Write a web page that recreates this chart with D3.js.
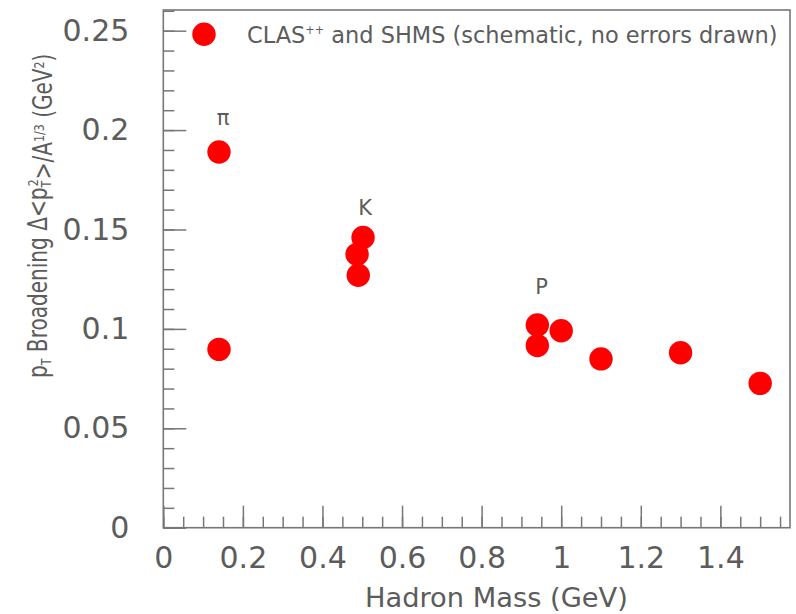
<!DOCTYPE html>
<html>
<head>
<meta charset="utf-8">
<script src="https://cdn.jsdelivr.net/npm/d3@7"></script>
<style>
  html, body { margin: 0; padding: 0; background: #fff; }
  svg { display: block; }
  text { font-family: "DejaVu Sans", sans-serif; fill: #5c5c5c; }
</style>
</head>
<body>
<svg id="chart" width="796" height="614"></svg>
<script>
// ---- data ----
const hadronMass = [0.14, 0.14, 0.487, 0.49, 0.502, 0.94, 0.94, 1.0, 1.1, 1.3, 1.5];
const broadening = [0.189, 0.0897, 0.1375, 0.127, 0.146, 0.102, 0.0916, 0.0991, 0.0849, 0.088, 0.0726];
const particleLabels = ["π", "K", "P"];
const labelMass = [0.15, 0.507, 0.9505];
const labelValue = [0.206, 0.161, 0.121];
const xTickValues = [0, 0.2, 0.4, 0.6, 0.8, 1, 1.2, 1.4];
const xTickLabels = ["0", "0.2", "0.4", "0.6", "0.8", "1", "1.2", "1.4"];
const yTickValues = [0, 0.05, 0.1, 0.15, 0.2, 0.25];
const yTickLabels = ["0", "0.05", "0.1", "0.15", "0.2", "0.25"];
const legendLabel = "CLAS";
const legendSup = "++";
const legendRest = " and SHMS (schematic, no errors drawn)";
const xTitle = "Hadron Mass (GeV)";

// ---- layout ----
const L = 163.3, R = 790, T = 10, B = 527.7;
const svg = d3.select("#chart");
const x = d3.scaleLinear().domain([0, 1.575]).range([L, R]);
const y = d3.scaleLinear().domain([0, 0.2604]).range([B, T]);
const axisColor = "#777";

// fit text to a target width by horizontal scaling (keeps glyph height)
function fitScale(sel, target, baseTransform) {
  const w = sel.node().getComputedTextLength();
  sel.attr("transform", `${baseTransform} scale(${target / w},1)`);
}

// frame
svg.append("rect").attr("x", L).attr("y", T).attr("width", R - L).attr("height", B - T)
  .attr("fill", "none").attr("stroke", axisColor).attr("stroke-width", 1.6);

// x minor ticks
const xMinor = d3.range(0, 1.576, 0.05).map(v => +v.toFixed(2));
svg.append("g").attr("transform", `translate(0,${B})`)
  .call(d3.axisBottom(x).tickValues(xMinor).tickSize(-11).tickFormat(""))
  .call(g => g.select(".domain").remove())
  .call(g => g.selectAll("line").attr("stroke", axisColor).attr("stroke-width", 1.5));
// x major ticks
svg.append("g").attr("transform", `translate(0,${B})`)
  .call(d3.axisBottom(x).tickValues(xTickValues).tickSize(-22).tickPadding(19)
    .tickFormat((d, i) => xTickLabels[i]))
  .call(g => g.select(".domain").remove())
  .call(g => g.selectAll("line").attr("stroke", axisColor).attr("stroke-width", 1.5))
  .call(g => g.selectAll("text").attr("font-size", 30).attr("font-family", "DejaVu Sans").attr("fill", "#5c5c5c"));

// y minor ticks
const yMinor = d3.range(0, 0.2605, 0.01).map(v => +v.toFixed(2));
svg.append("g").attr("transform", `translate(${L},0)`)
  .call(d3.axisLeft(y).tickValues(yMinor).tickSize(-11).tickFormat(""))
  .call(g => g.select(".domain").remove())
  .call(g => g.selectAll("line").attr("stroke", axisColor).attr("stroke-width", 1.5));
// y major ticks
svg.append("g").attr("transform", `translate(${L},0)`)
  .call(d3.axisLeft(y).tickValues(yTickValues).tickSize(-23).tickPadding(34)
    .tickFormat((d, i) => yTickLabels[i]))
  .call(g => g.select(".domain").remove())
  .call(g => g.selectAll("line").attr("stroke", axisColor).attr("stroke-width", 1.5))
  .call(g => g.selectAll("text").attr("font-size", 30).attr("font-family", "DejaVu Sans").attr("fill", "#5c5c5c"));

// points
svg.append("g").selectAll("circle").data(hadronMass).join("circle")
  .attr("cx", d => x(d)).attr("cy", (d, i) => y(broadening[i]))
  .attr("r", 11.7).attr("fill", "#ff0000");

// particle labels
svg.append("g").selectAll("text").data(particleLabels).join("text")
  .attr("x", (d, i) => x(labelMass[i])).attr("y", (d, i) => y(labelValue[i]))
  .attr("text-anchor", "middle").attr("dominant-baseline", "central")
  .attr("font-size", 21).text(d => d);

// legend
svg.append("circle").attr("cx", 204).attr("cy", 34.3).attr("r", 11.7).attr("fill", "#ff0000");
const leg = svg.append("text").attr("x", 0).attr("y", 0).attr("font-size", 23);
leg.append("tspan").text(legendLabel);
leg.append("tspan").attr("font-size", "50%").attr("dy", "-0.8em").text(legendSup);
leg.append("tspan").attr("dy", "0.4em").text(legendRest);
fitScale(leg, 531, "translate(247,43)");

// x title
const xt = svg.append("text").attr("x", 0).attr("y", 0).attr("font-size", 26).text(xTitle);
fitScale(xt, 263, "translate(365,607)");

// y title
const yt = svg.append("text").attr("x", 0).attr("y", 0).attr("font-size", 26);
yt.append("tspan").text("p");
yt.append("tspan").attr("font-size", "55%").attr("dy", "0.3em").text("T");
yt.append("tspan").attr("dy", "-0.17em").text(" Broadening Δ<p");
yt.append("tspan").attr("font-size", "55%").attr("dy", "0.3em").text("T");
yt.append("tspan").attr("font-size", "55%").attr("dx", "-0.5em").attr("dy", "-0.95em").text("2");
yt.append("tspan").attr("dy", "0.55em").text(">/A");
yt.append("tspan").attr("font-size", "55%").attr("dy", "-0.55em").text("1/3");
yt.append("tspan").attr("dy", "0.3em").text(" (GeV");
yt.append("tspan").attr("font-size", "55%").attr("dy", "-0.55em").text("2");
yt.append("tspan").attr("dy", "0.3em").text(")");
fitScale(yt, 330, "translate(47,378) rotate(-90)");
</script>
</body>
</html>
